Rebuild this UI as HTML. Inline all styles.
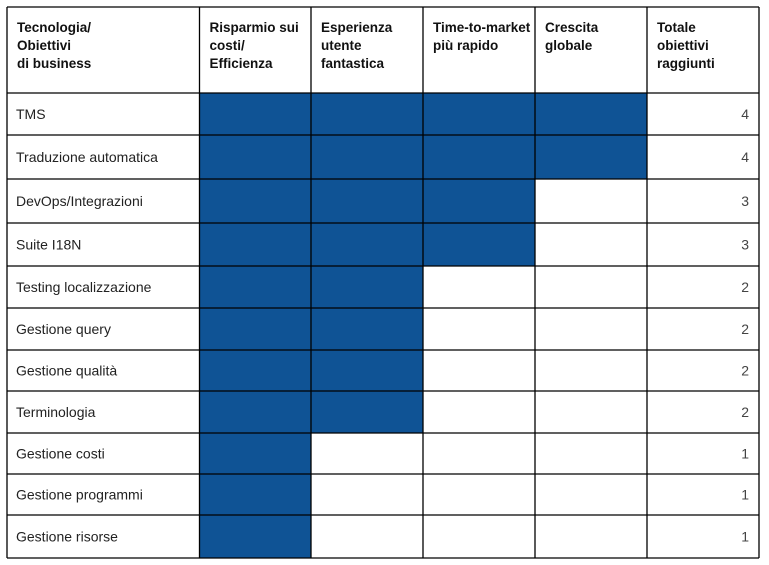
<!DOCTYPE html>
<html><head><meta charset="utf-8"><style>
html,body{margin:0;padding:0;background:#fff;width:769px;height:565px;overflow:hidden}
svg{display:block}
text{font-family:"Liberation Sans",Arial,sans-serif}
</style></head><body>
<svg id="chart" width="769" height="565" viewBox="0 0 769 565" xmlns="http://www.w3.org/2000/svg"></svg>
<script>
const headers = [["Tecnologia/","Obiettivi","di business"],["Risparmio sui","costi/","Efficienza"],["Esperienza","utente","fantastica"],["Time-to-market","più rapido"],["Crescita","globale"],["Totale","obiettivi","raggiunti"]];
const technologies = ["TMS","Traduzione automatica","DevOps/Integrazioni","Suite I18N","Testing localizzazione","Gestione query","Gestione qualità","Terminologia","Gestione costi","Gestione programmi","Gestione risorse"];
const goalsReached = [4,4,3,3,2,2,2,2,1,1,1];

const svg = document.getElementById('chart');
const NS = 'http://www.w3.org/2000/svg';
const colX = [7,199.5,311,423,535,647,759];
const rowY = [7,93,135,179,223,266,308,350,391,433,474,515,558];
function mk(tag, attrs){const e=document.createElementNS(NS,tag);for(const k in attrs)e.setAttribute(k,attrs[k]);svg.appendChild(e);return e;}

// filled cells
technologies.forEach((t,i)=>{
  for(let g=0; g<goalsReached[i]; g++){
    const r = mk('rect',{x:colX[g+1],y:rowY[i+1],width:colX[g+2]-colX[g+1],height:rowY[i+2]-rowY[i+1],fill:'#0f5395'});
    
    
  }
});
// grid lines
colX.forEach(x=>{mk('line',{x1:x,y1:rowY[0],x2:x,y2:rowY[rowY.length-1],stroke:'#000','stroke-width':1.3});});
rowY.forEach(y=>{mk('line',{x1:colX[0],y1:y,x2:colX[colX.length-1],y2:y,stroke:'#000','stroke-width':1.3});});
// headers
headers.forEach((lines,c)=>{
  const t = mk('text',{x:colX[c]+10,y:32,'font-size':13.5,'font-weight':'bold',fill:'#111'});
  
  
  lines.forEach((l,k)=>{const s=document.createElementNS(NS,'tspan');s.setAttribute('x',colX[c]+10);s.setAttribute('y',32+k*18);s.textContent=l;t.appendChild(s);});
});
// row labels and totals
technologies.forEach((name,i)=>{
  const yc=(rowY[i+1]+rowY[i+2])/2+5;
  const t=mk('text',{x:16,y:yc,'font-size':14,fill:'#222'});
  
  
  t.textContent=name;
  const n=mk('text',{x:749,y:yc,'font-size':14,fill:'#444','text-anchor':'end','font-family':'"DejaVu Sans Mono","Liberation Mono",monospace'});
  
  
  n.textContent=goalsReached[i];
});
</script>
</body></html>
